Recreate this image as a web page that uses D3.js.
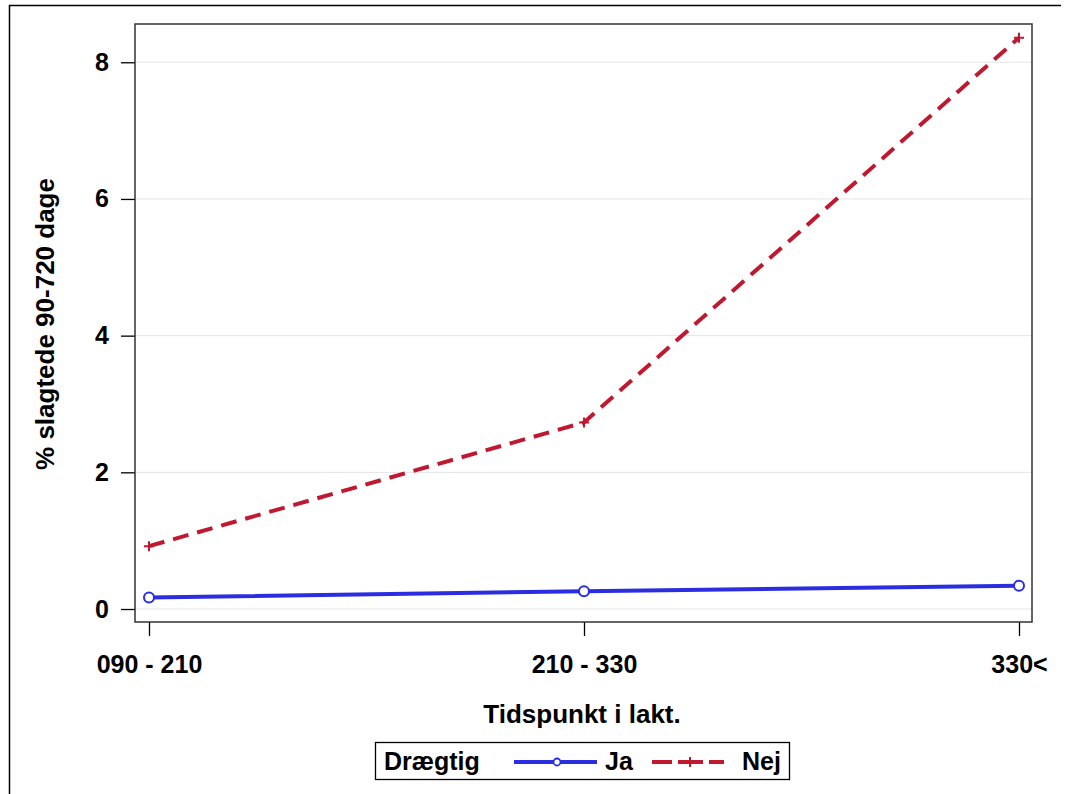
<!DOCTYPE html>
<html>
<head>
<meta charset="utf-8">
<script src="https://cdn.jsdelivr.net/npm/d3@7"></script>
<style>
  html, body { margin: 0; padding: 0; background: #fff; }
  svg text { font-family: "Liberation Sans", Arial, sans-serif; font-weight: bold; fill: #000; }
</style>
</head>
<body>
<svg id="chart" width="1066" height="794"></svg>
<script>
// Lactation stage groups
const categories = ["090 - 210", "210 - 330", "330<"];
// % culled 90-720 days, pregnant (Ja) vs not pregnant (Nej)
const jaValues = [0.17, 0.26, 0.34];
const nejValues = [0.92, 2.73, 8.36];
const yTicks = [0, 2, 4, 6, 8];
const seriesNames = ["Ja", "Nej"];
const legendTitle = "Drægtig";
const xTitle = "Tidspunkt i lakt.";
const yTitle = "% slagtede 90-720 dage";

const svg = d3.select("#chart");
const RED = "#c0182f", BLUE = "#2a2ee0";

// outer frame (left and top edges visible)
svg.append("path").attr("d", "M9.5,800V5.5H1061")
  .attr("fill", "none").attr("stroke", "#000").attr("stroke-width", 1.5);

const plot = { left: 135, top: 24, right: 1032, bottom: 622 };

const x = d3.scalePoint().domain(categories).range([149, 1019]);
const y = d3.scaleLinear().domain([-0.19, 8.56]).range([plot.bottom, plot.top]);

// gridlines
svg.append("g").selectAll("line").data(yTicks).join("line")
  .attr("x1", plot.left).attr("x2", plot.right)
  .attr("y1", d => y(d)).attr("y2", d => y(d))
  .attr("stroke", "#e4e4e4").attr("stroke-width", 1);

// y axis
const yAxis = svg.append("g").attr("transform", `translate(${plot.left},0)`)
  .call(d3.axisLeft(y).tickValues(yTicks).tickSize(14).tickPadding(12).tickFormat(d3.format("d")));
yAxis.select(".domain").remove();
yAxis.selectAll(".tick line").attr("stroke", "#000").attr("stroke-width", 1.3);
yAxis.selectAll(".tick text").attr("font-size", 25);

// x axis
const xAxis = svg.append("g").attr("transform", `translate(0,${plot.bottom})`)
  .call(d3.axisBottom(x).tickSize(14).tickPadding(19));
xAxis.select(".domain").remove();
xAxis.selectAll(".tick line").attr("stroke", "#000").attr("stroke-width", 1.3);
xAxis.selectAll(".tick text").attr("font-size", 25);

// plot frame
svg.append("rect").attr("x", plot.left).attr("y", plot.top)
  .attr("width", plot.right - plot.left).attr("height", plot.bottom - plot.top)
  .attr("fill", "none").attr("stroke", "#333").attr("stroke-width", 1.5);

// axis titles
svg.append("text").attr("x", 582).attr("y", 723)
  .attr("text-anchor", "middle").attr("font-size", 26).text(xTitle);
svg.append("text").attr("transform", `translate(54,324) rotate(-90)`)
  .attr("text-anchor", "middle").attr("font-size", 26).text(yTitle);

const line = d3.line().x((d, i) => x(categories[i])).y(d => y(d));

// Nej series: dashed red with plus markers
svg.append("path").datum(nejValues).attr("d", line)
  .attr("fill", "none").attr("stroke", RED).attr("stroke-width", 4)
  .attr("stroke-dasharray", "16,9");
svg.append("g").selectAll("path").data(nejValues).join("path")
  .attr("d", (d, i) => {
    const cx = x(categories[i]), cy = y(d), r = 5;
    return `M${cx - r},${cy}H${cx + r}M${cx},${cy - r}V${cy + r}`;
  })
  .attr("stroke", RED).attr("stroke-width", 2);

// Ja series: solid blue with circle markers
svg.append("path").datum(jaValues).attr("d", line)
  .attr("fill", "none").attr("stroke", BLUE).attr("stroke-width", 4);
svg.append("g").selectAll("circle").data(jaValues).join("circle")
  .attr("cx", (d, i) => x(categories[i])).attr("cy", d => y(d)).attr("r", 5)
  .attr("fill", "#fff").attr("stroke", BLUE).attr("stroke-width", 2);

// legend
const lg = svg.append("g");
lg.append("rect").attr("x", 375.5).attr("y", 742.5).attr("width", 414).attr("height", 37)
  .attr("fill", "#fff").attr("stroke", "#000").attr("stroke-width", 1.3);
lg.append("text").attr("x", 384).attr("y", 770).attr("font-size", 25).text(legendTitle);
// Ja swatch
lg.append("line").attr("x1", 514).attr("x2", 597).attr("y1", 762).attr("y2", 762)
  .attr("stroke", BLUE).attr("stroke-width", 4);
lg.append("circle").attr("cx", 557).attr("cy", 762).attr("r", 3.5)
  .attr("fill", "#fff").attr("stroke", BLUE).attr("stroke-width", 1.8);
lg.append("text").attr("x", 605).attr("y", 770).attr("font-size", 25).text(seriesNames[0]);
// Nej swatch
lg.append("line").attr("x1", 652).attr("x2", 724).attr("y1", 762).attr("y2", 762)
  .attr("stroke", RED).attr("stroke-width", 4).attr("stroke-dasharray", "20,6,25,6,20");
lg.append("path").attr("d", "M685,762H695M690,757V767")
  .attr("stroke", RED).attr("stroke-width", 2);
lg.append("text").attr("x", 742).attr("y", 770).attr("font-size", 25).text(seriesNames[1]);
</script>
</body>
</html>
